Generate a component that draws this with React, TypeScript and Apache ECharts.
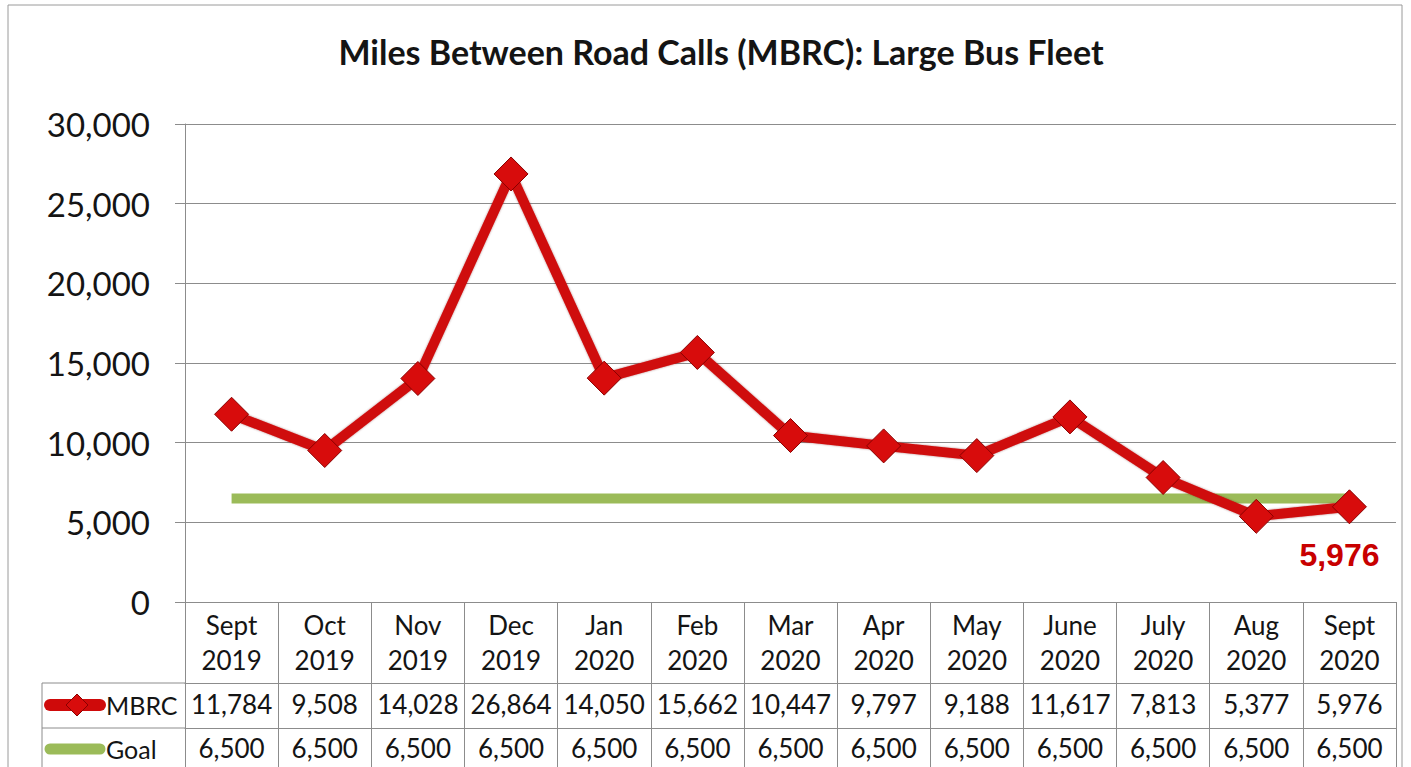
import React, { useEffect, useRef } from "react";
import * as echarts from "echarts";

const categories = [
  "Sept 2019", "Oct 2019", "Nov 2019", "Dec 2019", "Jan 2020", "Feb 2020", "Mar 2020",
  "Apr 2020", "May 2020", "June 2020", "July 2020", "Aug 2020", "Sept 2020",
];
const mbrcValues = [11784, 9508, 14028, 26864, 14050, 15662, 10447, 9797, 9188, 11617, 7813, 5377, 5976];
const goalValues = [6500, 6500, 6500, 6500, 6500, 6500, 6500, 6500, 6500, 6500, 6500, 6500, 6500];
const yMin = 0;
const yMax = 30000;
const yStep = 5000;
const titleText = "Miles Between Road Calls (MBRC): Large Bus Fleet";
const rowNames = ["MBRC", "Goal"];

const RED = "#cf0a0a";
const GREEN = "#9bbb59";
const GRID = "#8c8c8c";
const TXT = "#141414";
const FONT = "Lato, 'Open Sans', sans-serif";

const fmt = (v: number) => v.toLocaleString("en-US");

export default function App() {
  const ref = useRef<HTMLDivElement>(null);
  useEffect(() => {
    document.body.style.margin = "0";
    const chart = echarts.init(ref.current!, null, { renderer: "svg" });
    const tableX = 42;
    const plotLeft = 185;
    const row1Y = 683;
    const row2Y = 728;
    chart.setOption({
      animation: false,
      backgroundColor: "#ffffff",
      title: {
        text: titleText,
        left: 716,
        textAlign: "center",
        top: 29,
        textStyle: { fontFamily: FONT, fontWeight: "bold", fontSize: 34, color: TXT },
      },
      grid: { left: plotLeft, right: 15, top: 124, bottom: 165, containLabel: false },
      xAxis: [
        {
          type: "category",
          data: categories,
          boundaryGap: true,
          axisLine: { lineStyle: { color: GRID, width: 1 } },
          axisTick: { show: true, interval: 0, length: 81, lineStyle: { color: GRID } },
          axisLabel: {
            interval: 0,
            margin: 5,
            formatter: (v: string) => v.replace(" ", "\n"),
            fontFamily: FONT,
            fontSize: 26,
            lineHeight: 35,
            color: TXT,
          },
        },
        {
          type: "category",
          data: categories,
          position: "bottom",
          offset: row1Y - 602,
          boundaryGap: true,
          axisLine: { lineStyle: { color: GRID, width: 1 } },
          axisTick: { show: true, interval: 0, length: row2Y - row1Y, lineStyle: { color: GRID } },
          axisLabel: {
            interval: 0,
            margin: 6,
            formatter: (_v: string, i: number) => fmt(mbrcValues[i]),
            fontFamily: FONT,
            fontSize: 26,
            lineHeight: 30,
            color: TXT,
          },
        },
        {
          type: "category",
          data: categories,
          position: "bottom",
          offset: row2Y - 602,
          boundaryGap: true,
          axisLine: { lineStyle: { color: GRID, width: 1 } },
          axisTick: { show: true, interval: 0, length: 60, lineStyle: { color: GRID } },
          axisLabel: {
            interval: 0,
            margin: 5,
            formatter: (_v: string, i: number) => fmt(goalValues[i]),
            fontFamily: FONT,
            fontSize: 26,
            lineHeight: 30,
            color: TXT,
          },
        },
      ],
      yAxis: {
        type: "value",
        min: yMin,
        max: yMax,
        interval: yStep,
        axisLine: { show: true, lineStyle: { color: GRID, width: 1 } },
        axisTick: { show: true, length: 10, lineStyle: { color: GRID } },
        splitLine: { show: true, lineStyle: { color: GRID, width: 1 } },
        axisLabel: {
          margin: 35,
          formatter: (v: number) => fmt(v),
          fontFamily: FONT,
          fontSize: 33,
          color: TXT,
        },
      },
      series: [
        {
          name: "Goal",
          type: "line",
          data: goalValues,
          showSymbol: false,
          symbol: "none",
          lineStyle: { color: GREEN, width: 10 },
          z: 2,
        },
        {
          name: "MBRC",
          type: "line",
          data: mbrcValues.map((v, i) =>
            i === mbrcValues.length - 1
              ? {
                  value: v,
                  label: {
                    show: true,
                    position: "bottom",
                    distance: 15,
                    offset: [-10, 0],
                    formatter: (p: any) => fmt(p.value),
                    fontFamily: "'Liberation Sans', Arial, sans-serif",
                    fontWeight: "bold",
                    fontSize: 32,
                    color: "#c80000",
                  },
                }
              : v
          ),
          symbol: "diamond",
          symbolSize: 34,
          lineStyle: { color: RED, width: 10, shadowColor: "rgba(90,0,0,0.45)", shadowBlur: 2 },
          itemStyle: { color: "#d80c0c", borderColor: "#8a0000", borderWidth: 1 },
          z: 3,
        },
      ],
      graphic: [
        {
          type: "rect",
          shape: { x: 8, y: 5, width: 1394, height: 800 },
          style: { fill: "none", stroke: "#9a9a9a", lineWidth: 1 },
          silent: true,
        },
        { type: "line", shape: { x1: tableX, y1: row1Y, x2: plotLeft, y2: row1Y }, style: { stroke: GRID, lineWidth: 1 } },
        { type: "line", shape: { x1: tableX, y1: row2Y, x2: plotLeft, y2: row2Y }, style: { stroke: GRID, lineWidth: 1 } },
        { type: "line", shape: { x1: tableX, y1: row1Y, x2: tableX, y2: 790 }, style: { stroke: GRID, lineWidth: 1 } },
        {
          type: "line",
          shape: { x1: 50, y1: 705, x2: 100, y2: 705 },
          style: { stroke: RED, lineWidth: 12, lineCap: "round" },
        },
        {
          type: "polygon",
          shape: { points: [[77, 694], [88, 705], [77, 716], [66, 705]] },
          style: { fill: "#d80c0c", stroke: "#8a0000", lineWidth: 1 },
        },
        {
          type: "line",
          shape: { x1: 50, y1: 749, x2: 100, y2: 749 },
          style: { stroke: GREEN, lineWidth: 11, lineCap: "round" },
        },
        {
          type: "text",
          x: 106,
          y: 705,
          style: { text: rowNames[0], font: `25px ${FONT}`, fill: TXT, textVerticalAlign: "middle", verticalAlign: "middle" },
        },
        {
          type: "text",
          x: 106,
          y: 749,
          style: { text: rowNames[1], font: `25px ${FONT}`, fill: TXT, textVerticalAlign: "middle", verticalAlign: "middle" },
        },
      ],
    });
    return () => chart.dispose();
  }, []);
  return <div ref={ref} style={{ width: 1411, height: 767 }} />;
}
